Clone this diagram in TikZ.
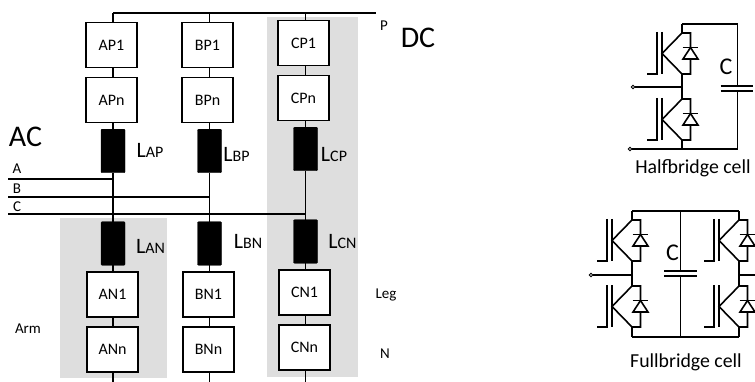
\documentclass[tikz,border=0pt]{standalone}
\usepackage{fontspec}
\setmainfont{Carlito}
\usetikzlibrary{positioning}
\tikzset{
	wire/.style={line width=1.6pt},
	armbox/.style={draw,line width=1.8pt,fill=white,minimum width=51pt,minimum height=45pt,inner sep=0pt,font=\fontsize{16}{16}\selectfont},
	choke/.style={draw,fill=black,rounded corners=1pt,minimum width=24pt,minimum height=43.5pt,inner sep=0pt},
	shade/.style={fill=black!13,draw=none},
	txt/.style={inner sep=0pt,font=\fontsize{15}{15}\selectfont},
	big/.style={inner sep=0pt,font=\fontsize{30}{30}\selectfont},
	lbl/.style={inner sep=0pt,font=\fontsize{16}{16}\selectfont},
	capname/.style={inner sep=0pt,font=\fontsize{24}{24}\selectfont},
	cellname/.style={inner sep=0pt,font=\fontsize{19.8}{20}\selectfont},
	terminal/.style={draw,circle,fill=white,line width=1pt,minimum size=3.5pt,inner sep=0pt},
	pics/igbt/.style={code={
		\draw[wire] (-25,-1)--(-25,41)--(-35,41);
		\draw[wire] (-20,-1)--(-20,41);
		\draw[wire] (-20,20.5)--(0,0)--(8.5,0)--(8.5,41)--(0,41)--cycle;
		\draw[wire] (0.5,14.5)--(16,14.5);
		\draw[wire,fill=white] (8.5,14.5)--(16,26)--(1,26)--cycle;
	}}
}
\newcommand{\chokelabel}[1]{{\fontsize{22}{22}\selectfont L}#1}

\begin{document}
\begin{tikzpicture}[x=1pt,y=-1pt]
\useasboundingbox (0,0) rectangle (755,382);

% shaded arm and leg
\fill[shade] (60,218) rectangle (167,378);
\fill[shade] (267,17) rectangle (358,377);

% the three legs
\foreach\c/\x/\bx/\dy in {A/113/111.5/0,B/209.5/207.5/0,C/305.5/303.5/-2}{
	\coordinate (top\c) at (\x,13);
	\coordinate (bot\c) at (\x,382);
	\node[armbox] (\c P1) at (\bx,45+\dy) {\c P1};
	\node[armbox] (\c Pn) at (\bx,100+\dy) {\c Pn};
	\node[choke] (L\c P) at (\x,151+\dy) {};
	\node[choke] (L\c N) at (\x,243.5+\dy) {};
	\node[armbox] (\c N1) at (\bx+1,294.5+\dy) {\c N1};
	\node[armbox] (\c Nn) at (\bx+1,349.5+\dy) {\c Nn};
	\draw[wire] (top\c)--(top\c |- \c P1.north);
	\draw[wire] (top\c |- \c P1.south)--(top\c |- \c Pn.north);
	\draw[wire] (top\c |- \c Pn.south)--(L\c P.north);
	\draw[wire] (L\c P.south)--(L\c N.north);
	\draw[wire] (L\c N.south)--(top\c |- \c N1.north);
	\draw[wire] (top\c |- \c N1.south)--(top\c |- \c Nn.north);
	\draw[wire] (top\c |- \c Nn.south)--(bot\c);
}

% dc bus
\coordinate (busend) at (376,13);
\draw[wire] (topA)--(busend);

% ac lines
\foreach\c/\y/\ty in {A/179/169,B/197/189,C/214/207}{
	\coordinate (ac\c) at (8,\y);
	\draw[wire] (ac\c)--(ac\c -| top\c);
	\node[txt] (name\c) at (17,\ty) {\c};
}

\node[lbl] (labelAP) at (150,150) {\chokelabel{AP}};
\node[lbl] (labelBP) at (236.5,154) {\chokelabel{BP}};
\node[lbl] (labelCP) at (334,154) {\chokelabel{CP}};
\node[lbl] (labelAN) at (150.5,246) {\chokelabel{AN}};
\node[lbl] (labelBN) at (248,241) {\chokelabel{BN}};
\node[lbl] (labelCN) at (342.5,241) {\chokelabel{CN}};

\node[txt] (nameP) at (384,26) {P};
\node[big] (nameDC) at (418,38) {DC};
\node[big] (nameAC) at (25.5,137) {AC};
\node[txt] (nameLeg) at (386,295) {Leg};
\node[txt] (nameArm) at (28,329) {Arm};
\node[txt] (nameN) at (385,354) {N};

% halfbridge
\pic at (682,33) {igbt};
\pic at (682,99) {igbt};
\coordinate (HT) at (682,24);
\coordinate (HB) at (682,149);
\coordinate (HC) at (737.5,24);
\coordinate (HD) at (737.5,149);
\node[terminal] (Ha) at (633,87) {};
\node[terminal] (Hb) at (630,149) {};
\coordinate (Hu) at (737.5,86);
\coordinate (Hv) at (737.5,91);
\draw[wire] (682,74)--(682,99);
\draw[wire] (HT)--(682,33);
\draw[wire] (682,140)--(HB);
\draw[wire] (Ha)--(682,87);
\draw[wire] (Hb)--(HD)--(Hv);
\draw[wire] (HT)--(HC)--(Hu);
\draw[wire] (720.5,86)--(753,86);
\draw[wire] (720.5,91)--(753,91);
\node[capname] (capH) at (726,67) {C};
\node[cellname] (nameH) at (693,168) {Halfbridge cell};

% fullbridge
\foreach\x in {632,739}{
	\pic at (\x,220) {igbt};
	\pic at (\x,286) {igbt};
	\draw[wire] (\x,211)--(\x,220);
	\draw[wire] (\x,261)--(\x,286);
	\draw[wire] (\x,327)--(\x,337);
}
\coordinate (FT) at (632,211);
\coordinate (FU) at (739,211);
\coordinate (FB) at (632,337);
\coordinate (FV) at (739,337);
\coordinate (Fu) at (680.5,271);
\coordinate (Fv) at (680.5,276);
\node[terminal] (Fa) at (591,275) {};
\coordinate (Fb) at (757,275);
\draw[wire] (FT)--(FU);
\draw[wire] (FB)--(FV);
\draw[wire] (Fa)--(632,275);
\draw[wire] (739,275)--(Fb);
\draw[wire] (680.5,211)--(Fu);
\draw[wire] (Fv)--(680.5,337);
\draw[wire] (664,271)--(697,271);
\draw[wire] (664,276)--(697,276);
\node[capname] (capF) at (672.5,253) {C};
\node[cellname] (nameF) at (686,362) {Fullbridge cell};
\end{tikzpicture}
\end{document}
